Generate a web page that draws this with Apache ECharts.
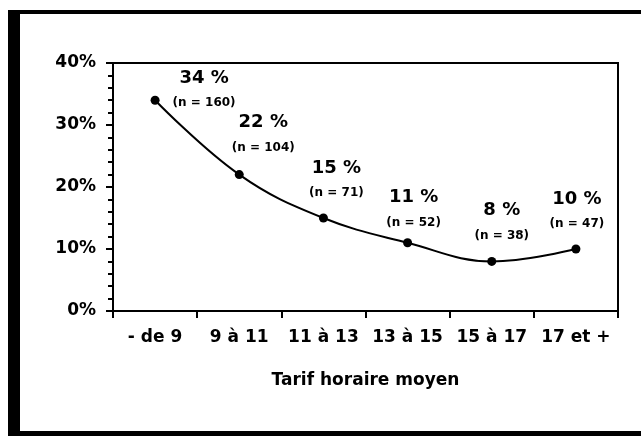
<!DOCTYPE html>
<html>
<head>
<meta charset="utf-8">
<script src="https://cdn.jsdelivr.net/npm/echarts@6/dist/echarts.min.js"></script>
<style>
html,body{margin:0;padding:0;background:#fff;}
#c{width:641px;height:436px;}
</style>
</head>
<body>
<div id="c"></div>
<script>
// ---- data ----
var categories = ['- de 9', '9 à 11', '11 à 13', '13 à 15', '15 à 17', '17 et +'];
var pctValues = [34, 22, 15, 11, 8, 10];
var nValues = [160, 104, 71, 52, 38, 47];
var axisTitle = 'Tarif horaire moyen';

// ---- layout (label block centre relative to each point, px) ----
var labelOffsets = [[49, -10], [24, -40], [13, -38], [6, -33], [10, -39], [1, -38]];

var FONT = 'DejaVu Sans';
var SYM = 9;
var chart = echarts.init(document.getElementById('c'), null, {renderer: 'canvas'});

var richStyles = {
  a: {fontFamily: FONT, fontWeight: 'bold', fontSize: 18, lineHeight: 26, color: '#000', align: 'center'},
  b: {fontFamily: FONT, fontWeight: 'bold', fontSize: 12, lineHeight: 24, color: '#000', align: 'center'}
};

var seriesData = pctValues.map(function (v, i) {
  return {
    value: v,
    label: {
      show: true,
      position: [SYM / 2 + labelOffsets[i][0], SYM / 2 + labelOffsets[i][1]],
      align: 'center',
      verticalAlign: 'middle',
      formatter: '{a|' + v + ' %}\n{b|(n = ' + nValues[i] + ')}',
      rich: richStyles
    }
  };
});

chart.setOption({
  animation: false,
  backgroundColor: '#fff',
  graphic: [
    {type: 'rect', shape: {x: 8, y: 10, width: 633, height: 4}, style: {fill: '#000'}},
    {type: 'rect', shape: {x: 8, y: 10, width: 12, height: 426}, style: {fill: '#000'}},
    {type: 'rect', shape: {x: 8, y: 431, width: 633, height: 5}, style: {fill: '#000'}}
  ],
  grid: {
    left: 113, right: 23, top: 63, bottom: 125,
    show: true, borderColor: '#000', borderWidth: 2, backgroundColor: 'transparent'
  },
  xAxis: {
    type: 'category',
    data: categories,
    boundaryGap: true,
    name: axisTitle,
    nameLocation: 'middle',
    nameGap: 61,
    nameTextStyle: {fontFamily: FONT, fontWeight: 'bold', fontSize: 17, color: '#000'},
    axisLine: {lineStyle: {color: '#000', width: 2}},
    axisTick: {show: true, alignWithLabel: false, length: 7, lineStyle: {color: '#000', width: 2}},
    axisLabel: {fontFamily: FONT, fontWeight: 'bold', fontSize: 17, color: '#000', margin: 18, interval: 0},
    splitLine: {show: false}
  },
  yAxis: {
    type: 'value',
    min: 0, max: 40, interval: 10,
    axisLine: {show: true, lineStyle: {color: '#000', width: 2}},
    axisTick: {show: true, length: 7, lineStyle: {color: '#000', width: 2}},
    minorTick: {show: true, splitNumber: 5, length: 5, lineStyle: {color: '#000', width: 2}},
    axisLabel: {fontFamily: FONT, fontWeight: 'bold', fontSize: 17, color: '#000', margin: 17,
      formatter: '{value}%'},
    splitLine: {show: false}
  },
  series: [{
    type: 'line',
    data: seriesData,
    smooth: 0.4,
    symbol: 'circle',
    symbolSize: SYM,
    itemStyle: {color: '#000'},
    lineStyle: {color: '#000', width: 2},
    label: {show: true},
    labelLayout: {hideOverlap: false}
  }]
});
</script>
</body>
</html>
